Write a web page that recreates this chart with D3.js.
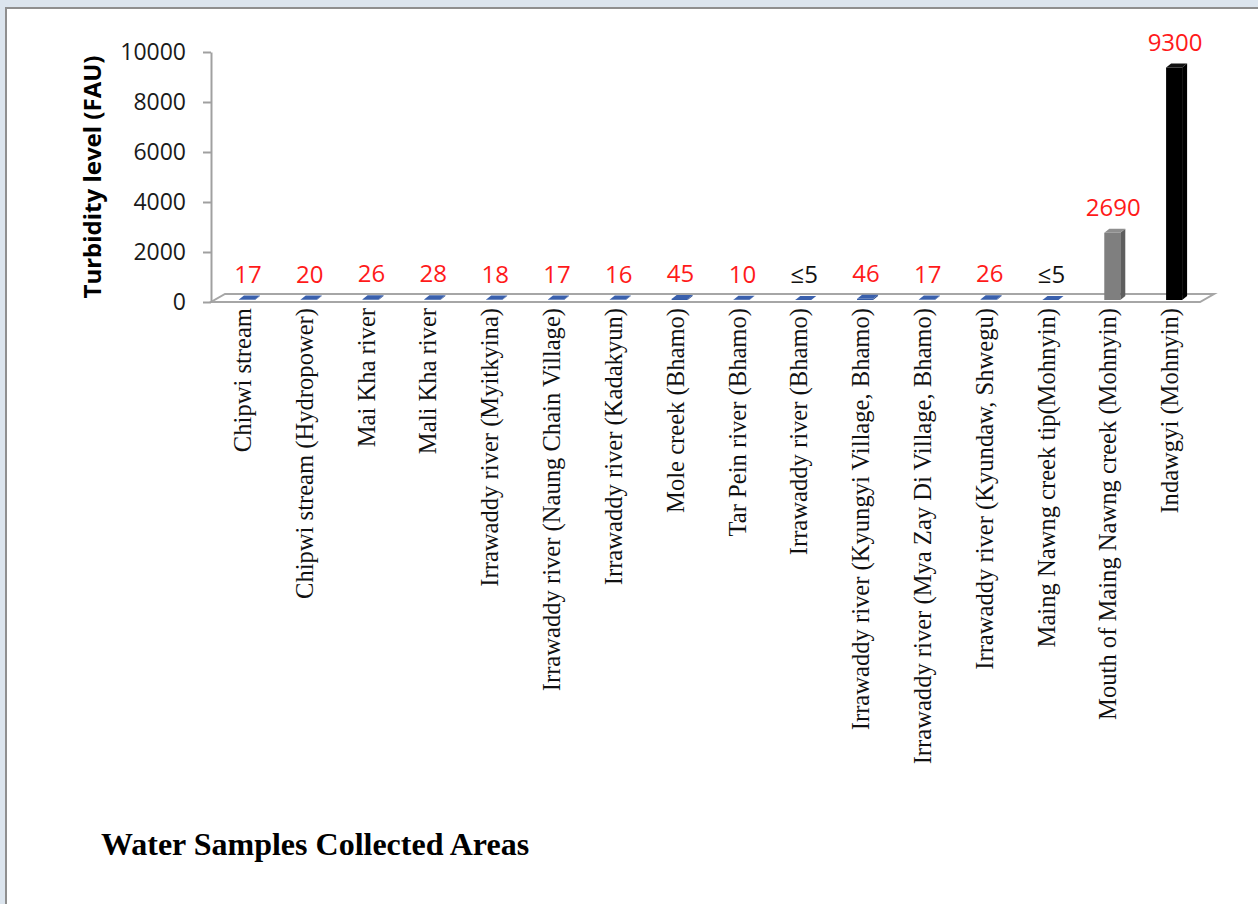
<!DOCTYPE html>
<html>
<head>
<meta charset="utf-8">
<script src="https://cdn.jsdelivr.net/npm/d3@7"></script>
<style>
  html, body { margin: 0; padding: 0; background: #dce5ee; }
  svg { display: block; }
  .cat { white-space: pre; }
</style>
</head>
<body>
<svg id="chart" width="1258" height="904"></svg>
<script>
// Sampling sites and their measured turbidity (FAU)
const categories = [
  "Chipwi stream",
  "Chipwi stream (Hydropower)",
  "Mai Kha river",
  "Mali Kha river",
  "Irrawaddy river (Myitkyina)",
  "Irrawaddy river (Naung Chain Village)",
  "Irrawaddy river (Kadakyun)",
  "Mole creek (Bhamo)",
  "Tar Pein river (Bhamo)",
  "Irrawaddy river (Bhamo)",
  "Irrawaddy river (Kyungyi Village, Bhamo)",
  "Irrawaddy river (Mya Zay Di Village, Bhamo)",
  "Irrawaddy river (Kyundaw, Shwegu)",
  "Maing Nawng creek tip(Mohnyin)",
  "Mouth of Maing Nawng creek (Mohnyin)",
  "Indawgyi (Mohnyin)"
];
const values = [17, 20, 26, 28, 18, 17, 16, 45, 10, 5, 46, 17, 26, 5, 2690, 9300];
const valueLabels = ["17", "20", "26", "28", "18", "17", "16", "45", "10", "\u22645", "46", "17", "26", "\u22645", "2690", "9300"];
const yTicks = [0, 2000, 4000, 6000, 8000, 10000];

const svg = d3.select("#chart");

// white page panel
svg.append("rect")
  .attr("x", 6).attr("y", 8).attr("width", 1400).attr("height", 1000)
  .attr("fill", "#ffffff").attr("stroke", "#8f8f8f").attr("stroke-width", 2);

const y = d3.scaleLinear().domain([0, 10000]).range([302, 52]);
const x = d3.scaleBand().domain(categories).range([211, 1200]).padding(0);
const bw = x.bandwidth();

// 3-D depth of the floor and of each bar
const floorDx = 14, floorDy = -8;
const barW = 16, barDx = 5, barDy = -4, shiftX = 5, shiftY = -2;

// palette: shallow bars blue, the two high sites in grey and black
const tone = d3.scaleOrdinal()
  .domain(categories)
  .range(categories.map((c, i) => i < 14 ? "blue" : (i === 14 ? "grey" : "black")));
const faces = {
  blue:  { front: "#365da8", top: "#3a60ad", side: "#2a4886" },
  grey:  { front: "#7f7f7f", top: "#8e8e8e", side: "#5e5e5e" },
  black: { front: "#000000", top: "#111111", side: "#000000" }
};

// floor
const y0 = y(0);
const x1 = x.range()[0], x2 = x.range()[1];
svg.append("path")
  .attr("d", `M${x1},${y0} L${x2},${y0} L${x2 + floorDx},${y0 + floorDy} L${x1 + floorDx},${y0 + floorDy} Z`)
  .attr("fill", "#ffffff").attr("stroke", "#a6a6a6").attr("stroke-width", 2);

// value axis
const yAxis = d3.axisLeft(y).tickValues(yTicks).tickFormat(d3.format("d"))
  .tickSize(8).tickSizeOuter(0).tickPadding(17);
const gy = svg.append("g").attr("transform", `translate(${x1},0)`).call(yAxis);
gy.select(".domain").attr("stroke", "#a0a0a0").attr("stroke-width", 2);
gy.selectAll(".tick line").attr("stroke", "#a0a0a0").attr("stroke-width", 2);
gy.selectAll(".tick text")
  .attr("font-family", "'Open Sans', sans-serif").attr("font-size", 23).attr("fill", "#1a1a1a");

// bars
const bars = svg.append("g").selectAll("g").data(categories).join("g");
bars.each(function (c, i) {
  const g = d3.select(this);
  const f = faces[tone(c)];
  const x0 = x(c) + (bw - barW) / 2 + shiftX;
  const yTop = y(values[i]) + shiftY;
  const yBot = y(0) + shiftY;
  g.append("rect").attr("x", x0).attr("y", yTop).attr("width", barW).attr("height", Math.max(0, yBot - yTop))
    .attr("fill", f.front);
  g.append("path")
    .attr("d", `M${x0 + barW},${yTop} L${x0 + barW + barDx},${yTop + barDy} L${x0 + barW + barDx},${yBot + barDy} L${x0 + barW},${yBot} Z`)
    .attr("fill", f.side);
  g.append("path")
    .attr("d", `M${x0},${yTop} L${x0 + barDx},${yTop + barDy} L${x0 + barW + barDx},${yTop + barDy} L${x0 + barW},${yTop} Z`)
    .attr("fill", f.top);
  g.append("text")
    .attr("x", x0 + barW / 2 + 1)
    .attr("y", yTop + barDy - 13)
    .attr("text-anchor", "middle")
    .attr("font-family", "'Open Sans', 'DejaVu Sans', sans-serif")
    .attr("font-size", 24)
    .attr("fill", valueLabels[i].startsWith("\u2264") ? "#111111" : "#ff1a1a")
    .text(valueLabels[i]);
});

// category labels, vertical
svg.append("g").selectAll("text").data(categories).join("text")
  .attr("class", "cat")
  .attr("transform", c => `translate(${x(c) + bw / 2 + 1},308) rotate(-90)`)
  .attr("text-anchor", "end")
  .attr("dy", "0.33em")
  .attr("font-family", "'Liberation Serif', 'Times New Roman', serif")
  .attr("font-size", 24.6)
  .attr("fill", "#111111")
  .text(c => c);

// axis titles
svg.append("text")
  .attr("transform", "translate(93,177) rotate(-90)")
  .attr("text-anchor", "middle")
  .attr("dy", "0.35em")
  .attr("font-family", "'Open Sans', sans-serif")
  .attr("font-weight", "bold")
  .attr("font-size", 24)
  .attr("fill", "#000")
  .text("Turbidity level (FAU)");

svg.append("text")
  .attr("x", 101).attr("y", 855)
  .attr("font-family", "'Liberation Serif', 'Times New Roman', serif")
  .attr("font-weight", "bold")
  .attr("font-size", 32)
  .attr("fill", "#000")
  .text("Water Samples Collected Areas");
</script>
</body>
</html>
